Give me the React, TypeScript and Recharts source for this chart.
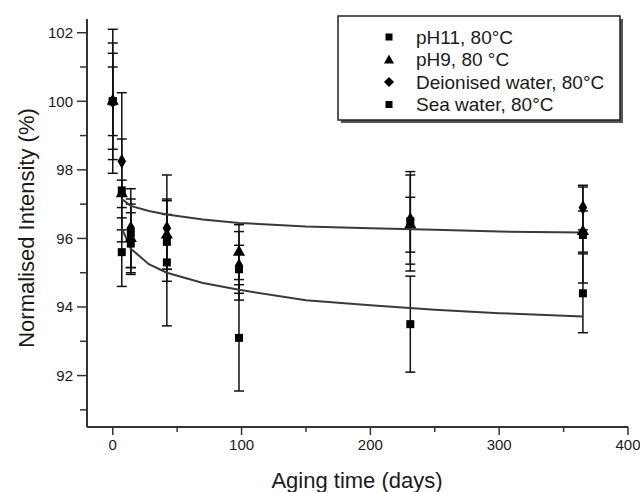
import React from 'react';
import { ScatterChart, Scatter, XAxis, YAxis, ErrorBar } from 'recharts';

const days = [0, 7, 14, 42, 98, 231, 365];

const pH11Values = [100.0, 95.6, 95.85, 95.3, 93.1, 93.5, 94.4];
const pH11Errors = [2.1, 1.0, 0.9, 1.85, 1.55, 1.4, 1.15];

const pH9Values = [100.0, 97.3, 96.0, 96.1, 95.6, 96.4, 96.2];
const pH9Errors = [1.4, 0.4, 1.0, 1.0, 0.8, 0.8, 0.6];

const deionisedValues = [100.0, 98.25, 96.3, 96.3, 95.2, 96.55, 96.9];
const deionisedErrors = [1.7, 2.0, 1.15, 1.55, 1.0, 1.3, 0.65];

const seaValues = [100.0, 97.4, 96.15, 95.9, 95.1, 96.5, 96.1];
const seaErrors = [1.0, 1.5, 1.0, 0.8, 0.7, 1.45, 1.4];

const fitDays = [7, 14, 28, 42, 70, 98, 150, 200, 250, 300, 365];
const upperFit = [97.15, 96.95, 96.8, 96.7, 96.55, 96.45, 96.35, 96.3, 96.25, 96.2, 96.17];
const lowerFit = [96.3, 95.7, 95.25, 95.0, 94.7, 94.5, 94.2, 94.05, 93.92, 93.82, 93.72];

const xTicks = [0, 50, 100, 150, 200, 250, 300, 350, 400];
const yTicks = [91, 92, 93, 94, 95, 96, 97, 98, 99, 100, 101, 102];

const legendLabels = ['pH11, 80\u00B0C', 'pH9, 80 \u00B0C', 'Deionised water, 80\u00B0C', 'Sea water, 80\u00B0C'];

const FONT = '"Liberation Sans", Arial, Helvetica, sans-serif';
const INK = '#1a1a1a';

const build = (vals: number[], errs: number[]) =>
  days.map((d, i) => ({ x: d, y: vals[i], e: errs[i] }));
const buildFit = (vals: number[]) => fitDays.map((d, i) => ({ x: d, y: vals[i] }));

const YTick = (props: any) => {
  const { x, y, payload } = props;
  const v = payload.value;
  const major = v % 2 === 0;
  return (
    <g>
      <line x1={x - (major ? 10 : 7)} x2={x} y1={y} y2={y} stroke="#333" strokeWidth={1.5} />
      {major && (
        <text x={x - 14} y={y} dy="0.36em" textAnchor="end" fontSize={15} fontFamily={FONT} fill={INK}>
          {v}
        </text>
      )}
    </g>
  );
};

const XTick = (props: any) => {
  const { x, y, payload } = props;
  const v = payload.value;
  const major = v % 100 === 0;
  return (
    <g>
      <line x1={x} x2={x} y1={y} y2={y + (major ? 8 : 5)} stroke="#333" strokeWidth={1.5} />
      {major && (
        <text x={x} y={y + 18} dy="0.36em" textAnchor="middle" fontSize={15} fontFamily={FONT} fill={INK}>
          {v}
        </text>
      )}
    </g>
  );
};

const Empty = () => <g />;

const LegendMarker = ({ kind, cx, cy }: { kind: string; cx: number; cy: number }) => {
  if (kind === 'triangle') {
    return <polygon points={`${cx},${cy - 5} ${cx - 5},${cy + 4} ${cx + 5},${cy + 4}`} fill="#000" />;
  }
  if (kind === 'diamond') {
    return <polygon points={`${cx},${cy - 5} ${cx + 5},${cy} ${cx},${cy + 5} ${cx - 5},${cy}`} fill="#000" />;
  }
  return <rect x={cx - 3.5} y={cy - 3.5} width={7} height={7} fill="#000" />;
};

const legendKinds = ['square', 'triangle', 'diamond', 'square'];

export default function App() {
  const series = [
    { name: legendLabels[0], data: build(pH11Values, pH11Errors), shape: 'square' },
    { name: legendLabels[1], data: build(pH9Values, pH9Errors), shape: 'triangle' },
    { name: legendLabels[2], data: build(deionisedValues, deionisedErrors), shape: 'diamond' },
    { name: legendLabels[3], data: build(seaValues, seaErrors), shape: 'square' },
  ];
  const legendTop = 16;
  const rowGap = 22.5;
  return (
    <div style={{ position: 'relative', width: 640, height: 492, background: '#fff' }}>
      <style>{`body{margin:0}`}</style>
      <ScatterChart width={640} height={492} margin={{ top: 19, right: 12, bottom: 0, left: 0 }}>
        <XAxis
          dataKey="x"
          type="number"
          domain={[-20, 400]}
          ticks={xTicks}
          interval={0}
          allowDataOverflow
          tickSize={0}
          tickMargin={0}
          tickLine={false}
          tick={<XTick />}
          axisLine={{ stroke: '#333', strokeWidth: 2 }}
          height={65}
        />
        <YAxis
          dataKey="y"
          type="number"
          domain={[90.5, 102.4]}
          ticks={yTicks}
          interval={0}
          allowDataOverflow
          tickSize={0}
          tickMargin={0}
          tickLine={false}
          tick={<YTick />}
          axisLine={{ stroke: '#333', strokeWidth: 2 }}
          width={87}
        />
        <Scatter
          name="upper fit"
          data={buildFit(upperFit)}
          line={{ stroke: '#3a3a3a', strokeWidth: 2 }}
          shape={<Empty />}
          isAnimationActive={false}
        />
        <Scatter
          name="lower fit"
          data={buildFit(lowerFit)}
          line={{ stroke: '#3a3a3a', strokeWidth: 2 }}
          shape={<Empty />}
          isAnimationActive={false}
        />
        {series.map((s) => (
          <Scatter
            key={s.name}
            name={s.name}
            data={s.data}
            fill="#000"
            shape={s.shape as any}
            isAnimationActive={false}
          >
            <ErrorBar dataKey="e" direction="y" width={5} strokeWidth={1.5} stroke="#111" />
          </Scatter>
        ))}
      </ScatterChart>
      <svg
        width={640}
        height={492}
        style={{ position: 'absolute', left: 0, top: 0, pointerEvents: 'none' }}
      >
        <text
          transform="translate(26,228) rotate(-90)"
          textAnchor="middle"
          dominantBaseline="central"
          fontSize={22}
          fontFamily={FONT}
          fill={INK}
        >
          Normalised Intensity (%)
        </text>
        <text x={357} y={480} textAnchor="middle" dominantBaseline="central" fontSize={22} fontFamily={FONT} fill={INK}>
          Aging time (days)
        </text>
        <rect x={341} y={legendTop + 3} width={282} height={104} fill="#555" />
        <rect x={338} y={legendTop} width={282} height={104} fill="#fff" stroke="#222" strokeWidth={1.5} />
        {legendLabels.map((label, i) => {
          const cy = legendTop + 21 + i * rowGap;
          return (
            <g key={label}>
              <LegendMarker kind={legendKinds[i]} cx={389} cy={cy} />
              <text x={416} y={cy} dy="0.36em" fontSize={19} fontFamily={FONT} fill={INK}>
                {label}
              </text>
            </g>
          );
        })}
      </svg>
    </div>
  );
}
